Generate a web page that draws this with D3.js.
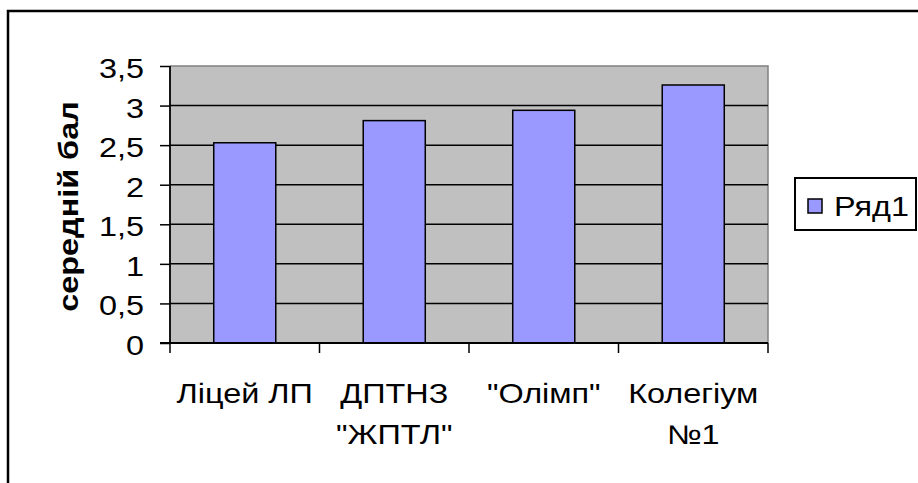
<!DOCTYPE html>
<html>
<head>
<meta charset="utf-8">
<script src="https://cdn.jsdelivr.net/npm/d3@7"></script>
<style>
  html, body { margin: 0; padding: 0; background: #fff; }
  svg { display: block; }
  text { font-family: Arial, "Liberation Sans", sans-serif; fill: #000; }
</style>
</head>
<body>
<svg id="chart" width="918" height="483"></svg>
<script>
const categories = [["Ліцей ЛП"], ["ДПТНЗ", "\"ЖПТЛ\""], ["\"Олімп\""], ["Колегіум", "№1"]];
const values = [2.53, 2.81, 2.94, 3.26];
const yTicks = [0, 0.5, 1, 1.5, 2, 2.5, 3, 3.5];
const yTickLabels = ["0", "0,5", "1", "1,5", "2", "2,5", "3", "3,5"];
const seriesName = "Ряд1";
const yTitle = "середній бал";

const svg = d3.select("#chart");
const SX = 1.2;           // horizontal glyph stretch of the original
const FS = 27;

// outer frame
svg.append("rect").attr("x", 8).attr("y", 11).attr("width", 930).attr("height", 490)
  .attr("fill", "#fff").attr("stroke", "#000").attr("stroke-width", 2.5);

const plot = { left: 170, top: 66, right: 768, bottom: 343 };

const x = d3.scaleBand().domain(d3.range(categories.length))
  .range([plot.left, plot.right]).paddingInner(0.585).paddingOuter(0.2925);
const xOuter = d3.scaleBand().domain(d3.range(categories.length))
  .range([plot.left, plot.right]);
const y = d3.scaleLinear().domain([0, 3.5]).range([plot.bottom, plot.top]);

// plot background
svg.append("rect").attr("x", plot.left).attr("y", plot.top)
  .attr("width", plot.right - plot.left).attr("height", plot.bottom - plot.top)
  .attr("fill", "#C0C0C0");
// top/right border of plot
svg.append("path")
  .attr("d", `M${plot.left},${plot.top}H${plot.right}V${plot.bottom}`)
  .attr("fill", "none").attr("stroke", "#808080").attr("stroke-width", 1.5);

// gridlines
svg.append("g").selectAll("line").data(yTicks.filter(t => t > 0 && t < 3.5)).join("line")
  .attr("x1", plot.left).attr("x2", plot.right)
  .attr("y1", d => y(d)).attr("y2", d => y(d))
  .attr("stroke", "#000").attr("stroke-width", 1.5);

// bars
svg.append("g").selectAll("rect").data(values).join("rect")
  .attr("x", (d, i) => x(i)).attr("width", x.bandwidth())
  .attr("y", d => y(d)).attr("height", d => y(0) - y(d))
  .attr("fill", "#9999FF").attr("stroke", "#000").attr("stroke-width", 1.5);

// y axis
const yAxis = d3.axisLeft(y).tickValues(yTicks).tickSize(10).tickFormat("");
const gy = svg.append("g").attr("transform", `translate(${plot.left},0)`).call(yAxis);
gy.select(".domain").attr("stroke", "#000").attr("stroke-width", 1.8).attr("d", `M0,${plot.top}V${plot.bottom}`);
gy.selectAll(".tick line").attr("stroke", "#000").attr("stroke-width", 1.5);

svg.append("g").selectAll("text").data(yTicks).join("text")
  .attr("transform", d => `translate(144,${y(d) + 12}) scale(${SX},1)`)
  .attr("text-anchor", "end").attr("font-size", FS)
  .text((d, i) => yTickLabels[i]);

// x axis
const xTickPos = d3.range(categories.length + 1).map(i => plot.left + i * xOuter.step());
svg.append("line").attr("x1", plot.left - 10).attr("x2", plot.right)
  .attr("y1", plot.bottom).attr("y2", plot.bottom)
  .attr("stroke", "#000").attr("stroke-width", 1.8);
svg.append("g").selectAll("line").data(xTickPos).join("line")
  .attr("x1", d => d).attr("x2", d => d)
  .attr("y1", plot.bottom).attr("y2", plot.bottom + 10)
  .attr("stroke", "#000").attr("stroke-width", 1.5);

const xl = svg.append("g").selectAll("g").data(categories).join("g")
  .attr("transform", (d, i) => `translate(${xOuter(i) + xOuter.bandwidth() / 2},0)`);
xl.each(function(lines) {
  d3.select(this).selectAll("text").data(lines).join("text")
    .attr("transform", (t, j) => `translate(0,${403 + j * 41}) scale(${SX},1)`)
    .attr("text-anchor", "middle").attr("font-size", FS)
    .text(t => t);
});

// y title
svg.append("text")
  .attr("transform", `translate(78,${(plot.top + plot.bottom) / 2 + 2}) rotate(-90) scale(${SX},1)`)
  .attr("text-anchor", "middle").attr("font-size", FS).attr("font-weight", "bold")
  .text(yTitle);

// legend
svg.append("rect").attr("x", 795).attr("y", 178).attr("width", 121).attr("height", 52)
  .attr("fill", "#fff").attr("stroke", "#000").attr("stroke-width", 2);
svg.append("rect").attr("x", 808).attr("y", 199).attr("width", 14).attr("height", 14)
  .attr("fill", "#9999FF").attr("stroke", "#000").attr("stroke-width", 1.5);
svg.append("text").attr("transform", `translate(834,216) scale(${SX},1)`)
  .attr("font-size", FS).text(seriesName);
</script>
</body>
</html>
